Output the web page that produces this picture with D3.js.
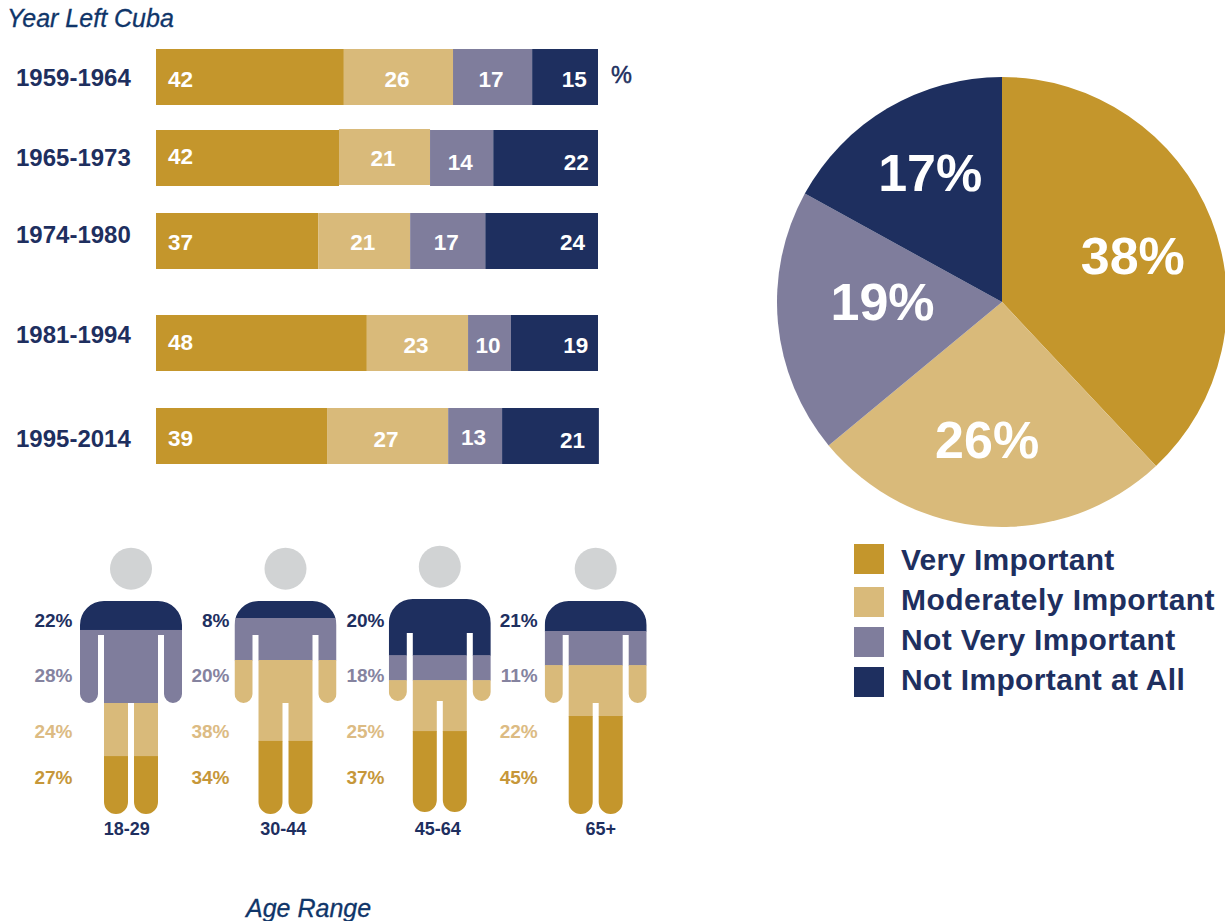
<!DOCTYPE html>
<html><head><meta charset="utf-8">
<script src="https://cdn.jsdelivr.net/npm/d3@7"></script>
<style>
html,body{margin:0;padding:0;background:#fff;overflow:hidden}
text{font-family:"Liberation Sans",Arial,sans-serif}
</style></head><body>
<svg id="c" width="1225" height="921"></svg>
<script>
// ---------- data ----------
const responses = ["Very Important","Moderately Important","Not Very Important","Not Important at All"];
const overall = [38,26,19,17];

const years = ["1959-1964","1965-1973","1974-1980","1981-1994","1995-2014"];
const veryByYear = [42,42,37,48,39];
const moderatelyByYear = [26,21,21,23,27];
const notVeryByYear = [17,14,17,10,13];
const notAtAllByYear = [15,22,24,19,21];
// segment lengths as drawn in the picture (share of the bar, %)
const veryDrawn = [42.5,41.4,36.7,47.7,38.7];
const moderatelyDrawn = [24.7,20.6,20.8,22.9,27.4];
const notVeryDrawn = [17.9,14.3,17.0,9.7,12.2];
const notAtAllDrawn = [14.9,23.7,25.5,19.7,21.9];

const ages = ["18-29","30-44","45-64","65+"];
const veryByAge = [27,34,37,45];
const moderatelyByAge = [24,38,25,22];
const notVeryByAge = [28,20,18,11];
const notAtAllByAge = [22,8,20,21];
// fill bands as drawn in the figures (share of figure height, %)
const veryFill = [27.2,34.3,38.0,46.0];
const moderatelyFill = [24.9,38.0,23.9,23.9];
const notVeryFill = [34.3,19.7,11.7,16.0];
const notAtAllFill = [13.6,8.0,26.4,14.1];

// ---------- style / layout ----------
const gold="#c4962c", tan="#d9ba7a", purple="#7f7d9c", navy="#1e2f5f", head="#d1d3d4";
const colors=[gold,tan,purple,navy];
const labelColors=["#c6973a","#dcbb83","#85839f",navy];
const svg=d3.select("#c");
const font=(s,size,w,st)=>s.attr("font-size",size).attr("font-weight",w||"bold").attr("font-style",st||"normal");

// ---------- titles ----------
font(svg.append("text").attr("x",7).attr("y",26.5).attr("fill","#0f3569").attr("stroke","#0f3569").attr("stroke-width",0.3).text("Year Left Cuba"),25,"normal","italic");
font(svg.append("text").attr("x",246).attr("y",917).attr("fill","#0f3569").attr("stroke","#0f3569").attr("stroke-width",0.3).text("Age Range"),25,"normal","italic");

// ---------- stacked bars ----------
const rowTop=d3.scaleOrdinal(years,[49,130,213,315,408]);
const rowLabelY=d3.scaleOrdinal(years,[78,158,235,335,439]);
const barX=d3.scaleLinear().domain([0,100]).range([156,598]);
const barH=56;
const labelNudge=[[2,2,2,2],[-2,0,4,4],[1,1,1,1],[-1,2,2,2],[2,3,1,4]];
const lastInset=[11.3,9.3,13,9.7,13];
const printed=[veryByYear,moderatelyByYear,notVeryByYear,notAtAllByYear];
const drawn=[veryDrawn,moderatelyDrawn,notVeryDrawn,notAtAllDrawn];

years.forEach((yr,i)=>{
  const g=svg.append("g");
  font(g.append("text").attr("x",16).attr("y",rowLabelY(yr)-0.5).attr("dy",".36em").attr("fill",navy).text(yr),24);
  const segs=drawn.map((a,k)=>({k,v:a[i],p:printed[k][i]}));
  let acc=0; segs.forEach(s=>{s.a=acc;acc+=s.v;s.b=acc;});
  g.selectAll("rect").data(segs).join("rect")
    .attr("x",d=>barX(d.a)).attr("width",d=>barX(d.b)-barX(d.a))
    .attr("y",d=>rowTop(yr)-(i==1&&d.k==1?1:0)).attr("height",barH).attr("fill",d=>colors[d.k]);
  font(g.selectAll("text.v").data(segs).join("text").attr("class","v")
    .attr("fill","#fff").attr("dy",".36em")
    .attr("y",d=>rowTop(yr)+barH/2+labelNudge[i][d.k])
    .attr("x",d=>d.k==0?barX(d.a)+12:d.k==3?barX(100)-lastInset[i]:(barX(d.a)+barX(d.b))/2-1.5)
    .attr("text-anchor",d=>d.k==0?"start":d.k==3?"end":"middle")
    .text(d=>d.p),22.5);
});
font(svg.append("text").attr("x",611).attr("y",75).attr("dy",".36em").attr("fill",navy).attr("stroke",navy).attr("stroke-width",0.5).text("%"),23.5,"normal");

// ---------- pie ----------
const pieG=svg.append("g").attr("transform","translate(1002,302)");
const arcs=d3.pie().sort(null)(overall);
const arc=d3.arc().innerRadius(0).outerRadius(225);
pieG.selectAll("path").data(arcs).join("path").attr("d",arc).attr("fill",(d,i)=>colors[i]);
const pieLabelR=d3.scaleOrdinal([0,1,2,3],[145,141,120,145]);
const pieLabelOff=[[-4,7],[-6,-3],[0,-12],[2,-5]];
font(pieG.selectAll("text").data(arcs).join("text")
  .attr("fill","#fff").attr("text-anchor","middle").attr("dy",".36em")
  .attr("x",(d,i)=>pieLabelR(i)*Math.sin((d.startAngle+d.endAngle)/2)+pieLabelOff[i][0])
  .attr("y",(d,i)=>-pieLabelR(i)*Math.cos((d.startAngle+d.endAngle)/2)+pieLabelOff[i][1])
  .text(d=>d.data+"%"),52);

// ---------- legend ----------
const legY=d3.scaleOrdinal(responses,[559,602,642,682]);
const legTextY=d3.scaleOrdinal(responses,[559,599,639,679]);
const legTracking=[0.25,0.45,0.34,0.35];
const leg=svg.append("g").selectAll("g").data(responses).join("g");
leg.append("rect").attr("x",854).attr("y",d=>legY(d)-15).attr("width",30).attr("height",30).attr("fill",(d,i)=>colors[i]);
font(leg.append("text").attr("x",901).attr("y",d=>legTextY(d)).attr("dy",".36em").attr("fill",navy).attr("letter-spacing",(d,i)=>legTracking[i]).text(d=>d),30);

// ---------- figures ----------
const figCx=d3.scaleOrdinal(ages,[131,285.5,439.8,595.7]);
const figTop=d3.scaleOrdinal(ages,[601,601,599,601]);
const figH=213;
const ageLabelX=d3.scaleOrdinal(ages,[126.7,283.3,437.7,600.7]);
const pctEndX=d3.scaleOrdinal(ages,[72.5,229.5,384.5,537.7]);
const body="M-51,24A24,24 0 0 1-27,0L27,0A24,24 0 0 1 51,24L51,93A9,9 0 0 1 33,93L33,34L27,34L27,201A12,12 0 0 1 3,201L3,102L-3,102L-3,201A12,12 0 0 1-27,201L-27,34L-33,34L-33,93A9,9 0 0 1-51,93Z";
const defs=svg.append("defs");
const printedAge=[notAtAllByAge,notVeryByAge,moderatelyByAge,veryByAge];
const fills=[notAtAllFill,notVeryFill,moderatelyFill,veryFill];
const bandColors=[navy,purple,tan,gold];
const bandLabelColors=[navy,labelColors[2],labelColors[1],labelColors[0]];
const ageLabelY=d3.scaleOrdinal([0,1,2,3],[620.5,675,731,777.5]);
ages.forEach((age,i)=>{
  const cx=figCx(age), top=figTop(age);
  const id="fig"+i;
  defs.append("clipPath").attr("id",id).append("path").attr("d",body);
  const g=svg.append("g").attr("transform",`translate(${cx},${top})`);
  g.append("circle").attr("cy",-32.3).attr("r",21).attr("fill",head);
  const y=d3.scaleLinear().domain([0,100]).range([0,figH]);
  let acc=0;
  const bands=fills.map((a,k)=>{const b={k,a:acc,b:acc+a[i]};acc+=a[i];return b;});
  g.append("g").attr("clip-path",`url(#${id})`).selectAll("rect").data(bands).join("rect")
    .attr("x",-60).attr("width",120).attr("y",d=>y(d.a)).attr("height",d=>y(d.b)-y(d.a)+(d.k<3?0.5:2))
    .attr("fill",d=>bandColors[d.k]);
  font(svg.append("g").selectAll("text").data(printedAge).join("text")
    .attr("x",pctEndX(age)).attr("y",(d,k)=>ageLabelY(k)).attr("dy",".36em").attr("text-anchor","end")
    .attr("fill",(d,k)=>bandLabelColors[k]).text(d=>d[i]+"%"),19);
  font(svg.append("text").attr("x",ageLabelX(age)).attr("y",829).attr("dy",".36em").attr("text-anchor","middle").attr("fill",navy).text(age),18);
});
</script></body></html>
